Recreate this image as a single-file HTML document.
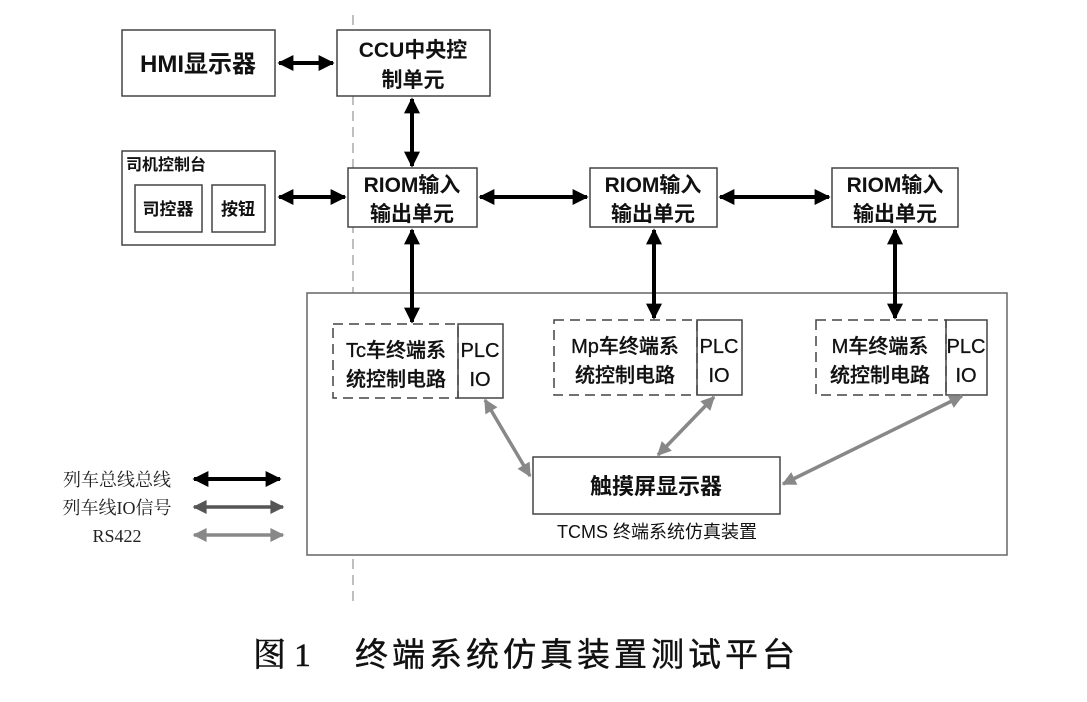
<!DOCTYPE html>
<html><head><meta charset="utf-8"><style>
html,body{margin:0;padding:0;background:#fff;}
svg{display:block;}
text{font-family:"Liberation Sans","Noto Sans CJK SC",sans-serif;}
</style></head><body>
<svg width="1087" height="702" viewBox="0 0 1087 702" xmlns="http://www.w3.org/2000/svg">
<defs>
<marker id="bk" viewBox="0 0 10 10" refX="9" refY="5" markerUnits="userSpaceOnUse" markerWidth="20" markerHeight="16" orient="auto-start-reverse"><path d="M0,0 L10,5 L0,10 z" fill="#000"/></marker>
<marker id="g1" viewBox="0 0 10 10" refX="9" refY="5" markerUnits="userSpaceOnUse" markerWidth="20" markerHeight="14" orient="auto-start-reverse"><path d="M0,0 L10,5 L0,10 z" fill="#555"/></marker>
<marker id="g2" viewBox="0 0 10 10" refX="9" refY="5" markerUnits="userSpaceOnUse" markerWidth="20" markerHeight="14" orient="auto-start-reverse"><path d="M0,0 L10,5 L0,10 z" fill="#888"/></marker>
</defs>
<line x1="353" y1="15" x2="353" y2="605" stroke="#aaa" stroke-width="1.5" stroke-dasharray="10,6"/>
<g fill="#fff" stroke="#444" stroke-width="1.5">
<rect x="122" y="30" width="153" height="66"/>
<rect x="337" y="30" width="153" height="66"/>
<rect x="122" y="151" width="153" height="94"/>
<rect x="135" y="185" width="67" height="47"/>
<rect x="212" y="185" width="53" height="47"/>
<rect x="348" y="168" width="129" height="59"/>
<rect x="590" y="168" width="127" height="59"/>
<rect x="832" y="168" width="126" height="59"/>
<rect x="307" y="293" width="700" height="262" stroke="#666"/>
<rect x="533" y="457" width="247" height="57"/>
</g>
<g fill="none" stroke="#444" stroke-width="1.5" stroke-dasharray="10,6">
<rect x="333" y="324" width="125" height="74"/>
<rect x="554" y="320" width="143" height="75"/>
<rect x="816" y="320" width="130" height="75"/>
</g>
<g fill="none" stroke="#444" stroke-width="1.5">
<rect x="458" y="324" width="45" height="74"/>
<rect x="697" y="320" width="45" height="75"/>
<rect x="946" y="320" width="41" height="75"/>
</g>
<g stroke="#000" stroke-width="4" marker-start="url(#bk)" marker-end="url(#bk)">
<line x1="279" y1="63" x2="333" y2="63"/>
<line x1="412" y1="99" x2="412" y2="166"/>
<line x1="279" y1="197" x2="345" y2="197"/>
<line x1="480" y1="197" x2="587" y2="197"/>
<line x1="720" y1="197" x2="829" y2="197"/>
<line x1="412" y1="230" x2="412" y2="322"/>
<line x1="654" y1="230" x2="654" y2="318"/>
<line x1="895" y1="230" x2="895" y2="318"/>
<line x1="194" y1="479" x2="280" y2="479"/>
</g>
<g stroke="#555" stroke-width="3.5" marker-start="url(#g1)" marker-end="url(#g1)">
<line x1="194" y1="507" x2="283" y2="507"/>
</g>
<g stroke="#888" stroke-width="3.5" marker-start="url(#g2)" marker-end="url(#g2)">
<line x1="194" y1="535" x2="283" y2="535"/>
<line x1="485" y1="400" x2="530" y2="476"/>
<line x1="714" y1="397" x2="658" y2="455"/>
<line x1="962" y1="396" x2="783" y2="484"/>
</g>
<g font-weight="bold" fill="#111" text-anchor="middle">
<text x="198" y="72" font-size="24">HMI显示器</text>
<text x="413" y="57" font-size="21">CCU中央控</text>
<text x="413" y="87" font-size="21">制单元</text>
<text x="126" y="170" font-size="16" text-anchor="start">司机控制台</text>
<text x="168" y="215" font-size="17">司控器</text>
<text x="238" y="215" font-size="17">按钮</text>
<text x="412" y="192" font-size="21">RIOM输入</text>
<text x="412" y="221" font-size="21">输出单元</text>
<text x="653" y="192" font-size="21">RIOM输入</text>
<text x="653" y="221" font-size="21">输出单元</text>
<text x="895" y="192" font-size="21">RIOM输入</text>
<text x="895" y="221" font-size="21">输出单元</text>
<text x="656" y="494" font-size="22">触摸屏显示器</text>
</g>
<g fill="#111" text-anchor="middle" font-size="20" font-weight="500" stroke="#111" stroke-width="0.3">
<text x="396" y="357">Tc车终端系</text>
<text x="396" y="386">统控制电路</text>
<text x="480" y="357">PLC</text>
<text x="480" y="386">IO</text>
<text x="625" y="353">Mp车终端系</text>
<text x="625" y="382">统控制电路</text>
<text x="719" y="353">PLC</text>
<text x="719" y="382">IO</text>
<text x="880" y="353">M车终端系</text>
<text x="880" y="382">统控制电路</text>
<text x="966" y="353">PLC</text>
<text x="966" y="382">IO</text>
</g>
<text x="657" y="538" font-size="18" fill="#111" text-anchor="middle">TCMS 终端系统仿真装置</text>
<g fill="#222" font-size="18" text-anchor="middle">
<text x="117" y="486" style="font-family:'Liberation Serif','Noto Serif CJK SC',serif">列车总线总线</text>
<text x="117" y="514" style="font-family:'Liberation Serif','Noto Serif CJK SC',serif">列车线IO信号</text>
<text x="117" y="542" style="font-family:'Liberation Serif','Noto Serif CJK SC',serif">RS422</text>
</g>
<text x="253" y="666" font-size="33" fill="#111" stroke="#111" stroke-width="0.6" style="font-family:'Liberation Serif','Noto Serif CJK SC',serif">图 1</text>
<text x="355" y="666" font-size="33" fill="#111" letter-spacing="4" stroke="#111" stroke-width="0.4" style="font-family:'Liberation Sans','Noto Sans CJK SC',sans-serif">终端系统仿真装置测试平台</text>
</svg>
</body></html>
